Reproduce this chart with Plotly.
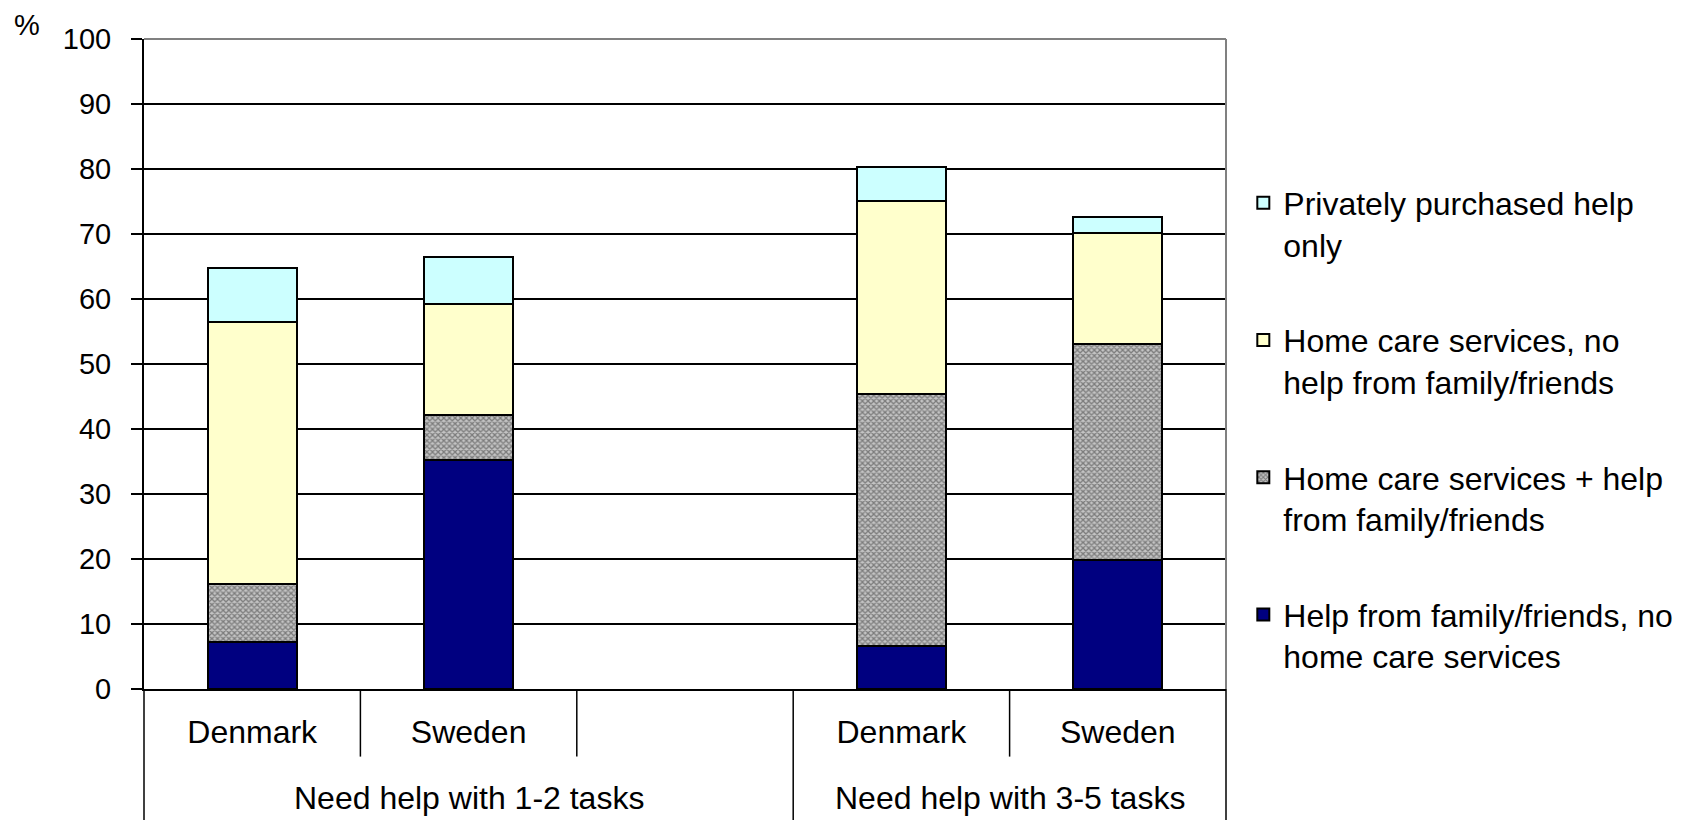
import plotly.graph_objects as go

# ---- data ----
categories = ["Denmark", "Sweden", "", "Denmark", "Sweden"]
groups = ["Need help with 1-2 tasks", "Need help with 3-5 tasks"]
group_spans = [3, 2]

family_only = [7.3, 35.3, None, 6.6, 19.9]
home_plus_family = [8.9, 6.9, None, 38.8, 33.2]
home_only = [40.2, 17.0, None, 29.7, 17.1]
private_only = [8.3, 7.3, None, 5.2, 2.4]

series_names = [
    "Help from family/friends, no<br>home care services",
    "Home care services + help<br>from family/friends",
    "Home care services, no<br>help from family/friends",
    "Privately purchased help<br>only",
]
y_ticks = list(range(0, 101, 10))

FONT = "Liberation Sans, Arial, sans-serif"
x = list(range(len(categories)))

fig = go.Figure()
common_line = dict(color="black", width=2)
fig.add_trace(go.Bar(x=x, y=family_only, name=series_names[0], legendgroup="a", legendrank=4,
                     marker=dict(color="#000080", line=common_line)))
fig.add_trace(go.Bar(x=x, y=home_plus_family, name=series_names[1], legendgroup="b", legendrank=3,
                     marker=dict(color="#909090", line=common_line,
                                 pattern=dict(shape="x", size=4, solidity=0.55,
                                              fgcolor="#333333", bgcolor="#c4c4c4"))))
fig.add_trace(go.Bar(x=x, y=home_only, name=series_names[2], legendgroup="c", legendrank=2,
                     marker=dict(color="#FFFFCC", line=common_line)))
fig.add_trace(go.Bar(x=x, y=private_only, name=series_names[3], legendgroup="d", legendrank=1,
                     marker=dict(color="#CCFFFF", line=common_line)))

n = len(categories)
shapes = []
# gray frame top and right
shapes.append(dict(type="line", xref="paper", yref="paper", x0=0, x1=1, y0=1, y1=1,
                   line=dict(color="#808080", width=2), layer="above"))
shapes.append(dict(type="line", xref="paper", yref="paper", x0=1, x1=1, y0=0, y1=1,
                   line=dict(color="#808080", width=2), layer="above"))
# category dividers
boundaries = set()
pos = 0
for s in group_spans:
    boundaries.add(pos)
    pos += s
boundaries.add(pos)
for i in range(n + 1):
    xp = i / n
    y0 = -0.22 if i in boundaries else -0.104
    shapes.append(dict(type="line", xref="paper", yref="paper", x0=xp, x1=xp, y0=y0, y1=0,
                       line=dict(color="black", width=1.5)))

annotations = []
pos = 0
for g, s in zip(groups, group_spans):
    center = (pos + s / 2) / n
    annotations.append(dict(text=g, xref="paper", yref="paper", x=center, y=-0.167,
                            showarrow=False, xanchor="center", yanchor="middle",
                            font=dict(size=32, color="black", family=FONT)))
    pos += s
annotations.append(dict(text="%", xref="paper", yref="paper", x=-0.108, y=1.022,
                        showarrow=False, xanchor="center", yanchor="middle",
                        font=dict(size=29, color="black", family=FONT)))

fig.update_layout(
    barmode="stack",
    bargap=0.59,
    width=1696, height=820,
    margin=dict(l=136, r=478, t=30.5, b=138.5),
    plot_bgcolor="white", paper_bgcolor="white",
    font=dict(family=FONT, color="black", size=32),
    shapes=shapes,
    annotations=annotations,
    legend=dict(x=1.016, xanchor="left", y=0.79, yanchor="top",
                traceorder="grouped", tracegroupgap=51, valign="top",
                font=dict(size=32, family=FONT, color="black")),
    xaxis=dict(range=[-0.5, n - 0.5], tickmode="array", tickvals=x, ticktext=categories,
               showgrid=False, showline=True, linecolor="black", linewidth=2,
               ticks="", ticklabelstandoff=14, tickfont=dict(size=32, family=FONT),
               zeroline=False, fixedrange=True),
    yaxis=dict(range=[0, 100], tickmode="array", tickvals=y_ticks,
               showgrid=True, gridcolor="black", gridwidth=1.8,
               showline=True, linecolor="black", linewidth=2,
               ticks="outside", ticklen=11, tickwidth=2, tickcolor="black",
               ticklabelstandoff=14, tickfont=dict(size=29, family=FONT),
               zeroline=False, fixedrange=True),
)

fig.write_html("out.html")
